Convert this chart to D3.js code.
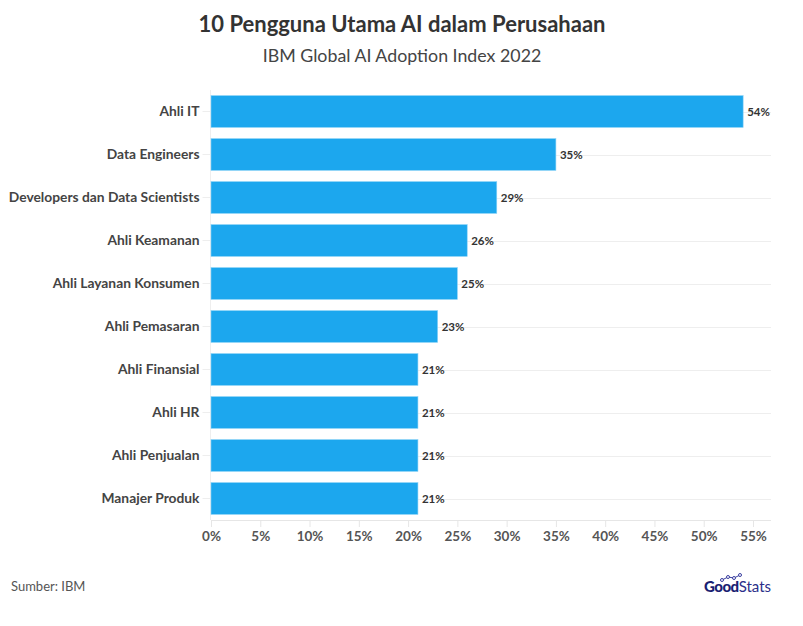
<!DOCTYPE html>
<html><head><meta charset="utf-8">
<script src="https://cdn.jsdelivr.net/npm/d3@7"></script>
<style>
body{margin:0;background:#fff;}
text{font-family:"Source Sans Pro",Lato,"Noto Sans",sans-serif;}
</style></head>
<body>
<svg id="chart" width="803" height="626"></svg>
<script>
const categories = ["Ahli IT","Data Engineers","Developers dan Data Scientists","Ahli Keamanan","Ahli Layanan Konsumen","Ahli Pemasaran","Ahli Finansial","Ahli HR","Ahli Penjualan","Manajer Produk"];
const values = [54,35,29,26,25,23,21,21,21,21];
const xTicks = [0,5,10,15,20,25,30,35,40,45,50,55];
const title = "10 Pengguna Utama AI dalam Perusahaan";
const subtitle = "IBM Global AI Adoption Index 2022";
const source = "Sumber: IBM";

const svg = d3.select("#chart");
const pLeft = 211, pRight = 771, pTop = 90, pBottom = 520;
const x = d3.scaleLinear().domain([0,55]).range([pLeft, 753]);
const y = d3.scaleBand().domain(categories).range([pTop, pBottom]).paddingInner(0.26).paddingOuter(0.13);

svg.append("text").attr("x",402).attr("y",32).attr("text-anchor","middle")
  .attr("font-size",22).attr("font-weight",700).attr("fill","#333").text(title);
svg.append("text").attr("x",402).attr("y",62).attr("text-anchor","middle")
  .attr("font-size",17.8).attr("fill","#444").text(subtitle);

// horizontal gridlines
svg.append("g").selectAll("line").data(categories).join("line")
  .attr("x1",pLeft).attr("x2",pRight)
  .attr("y1",d=>Math.round(y(d)+y.bandwidth()/2)+0.5).attr("y2",d=>Math.round(y(d)+y.bandwidth()/2)+0.5)
  .attr("stroke","#eeeeee").attr("stroke-width",1);
// left axis line
svg.append("line").attr("x1",pLeft-0.5).attr("x2",pLeft-0.5).attr("y1",pTop).attr("y2",pBottom)
  .attr("stroke","#eeeeee");

// y axis
const yAxis = svg.append("g").attr("transform",`translate(${pLeft-0.5},0)`)
  .call(d3.axisLeft(y).tickSize(8).tickPadding(3));
yAxis.select(".domain").remove();
yAxis.selectAll("line").attr("stroke","#eeeeee");
yAxis.selectAll("text").attr("font-size",13.8).attr("font-weight",700).attr("fill","#444")
  .style("font-family",'"Source Sans Pro",Lato,"Noto Sans",sans-serif');

// bars
svg.append("g").selectAll("rect").data(values).join("rect")
  .attr("x",pLeft).attr("y",(d,i)=>y(categories[i]))
  .attr("width",d=>x(d)-pLeft).attr("height",y.bandwidth())
  .attr("fill","#1ca7ee").attr("stroke","#8dd3f7").attr("stroke-width",0.6);

// value labels
svg.append("g").selectAll("text").data(values).join("text")
  .attr("x",d=>x(d)+4).attr("y",(d,i)=>y(categories[i])+y.bandwidth()/2+4)
  .attr("font-size",11.5).attr("font-weight",700).attr("fill","#333")
  .text(d=>d+"%");

// x axis
const xAxis = svg.append("g").attr("transform",`translate(0,${pBottom})`)
  .call(d3.axisBottom(x).tickValues(xTicks).tickFormat(d=>d+"%").tickSize(7).tickPadding(4));
xAxis.select(".domain").attr("d",`M${pLeft},0.5H${pRight}`).attr("stroke","#e6e6e6");
xAxis.selectAll("line").attr("stroke","#e6e6e6");
xAxis.selectAll("text").attr("font-size",13.5).attr("font-weight",700).attr("fill","#555")
  .style("font-family",'"Source Sans Pro",Lato,"Noto Sans",sans-serif');

// source
svg.append("text").attr("x",11).attr("y",591).attr("font-size",13).attr("fill","#555").text(source);

// logo
const logo = svg.append("g");
const lt = logo.append("text").attr("x",704).attr("y",592).attr("font-size",15);
lt.append("tspan").attr("font-weight",900).attr("fill","#1b1f73").attr("letter-spacing","-0.5").text("Good");
lt.append("tspan").attr("font-weight",400).attr("fill","#2b2f8a").text("Stats");
const pts = [[722,580],[728,577],[734,578],[740,575]];
logo.append("path").attr("d",d3.line()(pts)).attr("fill","none").attr("stroke","#3a3fa0").attr("stroke-width",1);
logo.selectAll("circle").data(pts).join("circle").attr("cx",d=>d[0]).attr("cy",d=>d[1]).attr("r",1.5)
  .attr("fill","#fff").attr("stroke","#3a3fa0").attr("stroke-width",1);
</script>
</body></html>
